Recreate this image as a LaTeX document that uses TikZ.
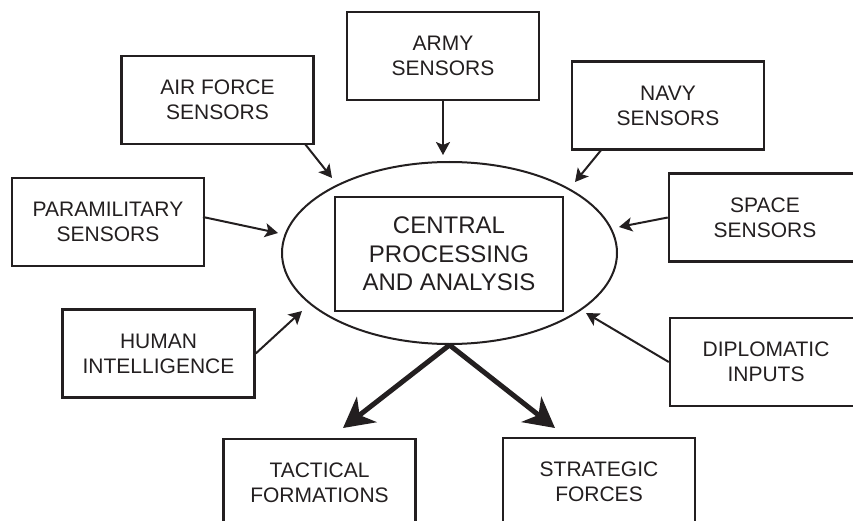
\documentclass[tikz,border=0pt]{standalone}
\usepackage{fontspec}
\setmainfont{Liberation Sans}
\usetikzlibrary{arrows.meta,shapes.geometric,calc}
\definecolor{ink}{RGB}{35,31,32}
\begin{document}
\begin{tikzpicture}[x=1pt,y=-1pt,
 box/.style={draw=ink, line width=2.5pt, minimum width=192pt, minimum height=88pt, inner sep=0pt, align=center, font=\fontsize{21}{25}\selectfont, text=ink},
 feed/.style={draw=ink, line width=2pt, -{Stealth[length=13pt,width=14pt,inset=3pt]}},
 bigarrow/.style={draw=ink, line width=5pt, -{Stealth[length=30pt,width=32pt,inset=9pt]}}]
\useasboundingbox (0,0) rectangle (853,521);
% boxes
\node[box] (army) at (443,56) {ARMY\\SENSORS};
\node[box] (air) at (217.5,100) {AIR FORCE\\SENSORS};
\node[box] (navy) at (668,105.5) {NAVY\\SENSORS};
\node[box] (para) at (108,222) {PARAMILITARY\\SENSORS};
\node[box] (space) at (765,217.5) {SPACE\\SENSORS};
\node[box] (human) at (158.5,353.5) {HUMAN\\INTELLIGENCE};
\node[box] (dipl) at (766,362) {DIPLOMATIC\\INPUTS};
\node[box] (tact) at (319.5,483) {TACTICAL\\FORMATIONS};
\node[box] (strat) at (599,482) {STRATEGIC\\FORCES};
% centre
\node[draw=ink, line width=2pt, ellipse, minimum width=335pt, minimum height=182pt, inner sep=0pt] (ell) at (449.5,253) {};
\node[draw=ink, line width=2.5pt, minimum width=228pt, minimum height=114pt, inner sep=0pt, align=center, text=ink, font=\fontsize{24}{28.5}\selectfont] (cpa) at (449,254) {CENTRAL\\PROCESSING\\AND ANALYSIS};
% arrow ends
\coordinate (tArmy) at (443,155);
\coordinate (sAir) at (305,144);
\coordinate (tAir) at (332,178);
\coordinate (sNavy) at (602,149);
\coordinate (tNavy) at (575,182);
\coordinate (sPara) at (203,217);
\coordinate (tPara) at (278,233);
\coordinate (tSpace) at (619,227);
\coordinate (tHuman) at (302,311);
\coordinate (tDipl) at (586,313);
\coordinate (tTact) at (343,428);
\coordinate (tStrat) at (555,428);
% connectors
\draw[feed] (army.south) -- (tArmy);
\draw[feed] (sAir) -- (tAir);
\draw[feed] (sNavy) -- (tNavy);
\draw[feed] (sPara) -- (tPara);
\draw[feed] (space.west) -- (tSpace);
\draw[feed] (human.east) -- (tHuman);
\draw[feed] (dipl.west) -- (tDipl);
\draw[bigarrow] (ell.south) -- (tTact);
\draw[bigarrow] (ell.south) -- (tStrat);
\end{tikzpicture}
\end{document}
